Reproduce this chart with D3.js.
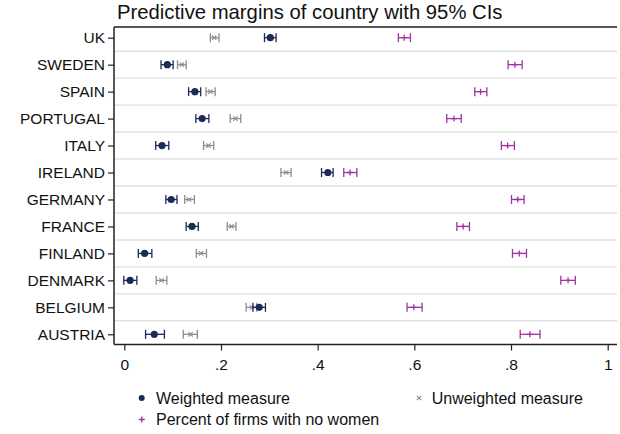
<!DOCTYPE html>
<html><head><meta charset="utf-8">
<script src="https://cdn.jsdelivr.net/npm/d3@7"></script>
<style>body{margin:0;background:#fff}svg{display:block;font-family:"Liberation Sans",Arial,sans-serif}</style>
</head><body>
<script>
const countries = ["UK","SWEDEN","SPAIN","PORTUGAL","ITALY","IRELAND","GERMANY","FRANCE","FINLAND","DENMARK","BELGIUM","AUSTRIA"];
const weighted   = [0.302,0.089,0.146,0.161,0.078,0.421,0.097,0.140,0.042,0.012,0.279,0.062];
const weightedLo = [0.290,0.076,0.133,0.148,0.065,0.408,0.086,0.128,0.029,-0.001,0.266,0.044];
const weightedHi = [0.314,0.101,0.158,0.175,0.092,0.432,0.109,0.153,0.057,0.026,0.292,0.083];
const unweighted   = [0.186,0.119,0.178,0.230,0.174,0.335,0.134,0.222,0.159,0.077,0.264,0.137];
const unweightedLo = [0.178,0.110,0.169,0.219,0.164,0.324,0.125,0.213,0.149,0.066,0.252,0.122];
const unweightedHi = [0.196,0.128,0.188,0.241,0.185,0.345,0.145,0.231,0.170,0.088,0.274,0.151];
const noWomen   = [0.579,0.808,0.737,0.682,0.793,0.467,0.814,0.701,0.817,0.918,0.599,0.839];
const noWomenLo = [0.567,0.794,0.725,0.667,0.780,0.454,0.801,0.688,0.803,0.903,0.585,0.819];
const noWomenHi = [0.592,0.823,0.750,0.697,0.807,0.481,0.827,0.714,0.832,0.933,0.616,0.860];
const xTicks = [0,0.2,0.4,0.6,0.8,1];
const xTickLabels = ["0",".2",".4",".6",".8","1"];
const legendLabels = ["Weighted measure","Unweighted measure","Percent of firms with no women"];
const titleText = "Predictive margins of country with 95% CIs";

const W=620,H=434;
const NAVY="#1c2a58", GRAY="#8e8e8e", PURPLE="#a231a6";
const FS=15.5;
const svg=d3.select("body").append("svg").attr("width",W).attr("height",H);
const plotL=114, plotR=617, plotT=27, plotB=344.5;
const x=d3.scaleLinear().domain([0,1]).range([124.3,607.7]);
const y=d3.scalePoint().domain(countries).range([37.7,334.3]);
const step=y.step();

// gridlines between rows
const gl=svg.append("g");
countries.slice(1).forEach(c=>{
  gl.append("line").attr("x1",plotL).attr("x2",plotR).attr("y1",y(c)-step/2).attr("y2",y(c)-step/2)
    .attr("stroke","#e0e0e0").attr("stroke-width",1.4);
});
// top frame line
svg.append("line").attr("x1",plotL).attr("x2",plotR).attr("y1",plotT).attr("y2",plotT).attr("stroke","#555").attr("stroke-width",2);

// axes
const xAxis=d3.axisBottom(x).tickValues(xTicks).tickFormat((d,i)=>xTickLabels[i]).tickSize(6).tickSizeOuter(0);
const gx=svg.append("g").attr("transform",`translate(0,${plotB})`).call(xAxis);
gx.select(".domain").attr("d",`M${plotL},0H${plotR}`).attr("stroke","#222").attr("stroke-width",1.5);
gx.selectAll(".tick line").attr("stroke","#222").attr("stroke-width",1.2);
gx.selectAll(".tick text").attr("font-size",FS).attr("fill","#111").attr("dy","1.05em").attr("font-family","Liberation Sans, Arial, sans-serif");

const yAxis=d3.axisLeft(y).tickSize(6).tickPadding(3).tickSizeOuter(0);
const gy=svg.append("g").attr("transform",`translate(${plotL},0)`).call(yAxis);
gy.select(".domain").attr("d",`M0,${plotT}V${plotB}`).attr("stroke","#222").attr("stroke-width",1.5);
gy.selectAll(".tick line").attr("stroke","#222").attr("stroke-width",1.2);
gy.selectAll(".tick text").attr("font-size",FS).attr("fill","#111").attr("font-family","Liberation Sans, Arial, sans-serif");

const capH=4.5;
function drawCI(vals,lo,hi,color){
  const g=svg.append("g").attr("stroke",color).attr("stroke-width",1.3).attr("fill","none");
  countries.forEach((c,i)=>{
    const yy=y(c);
    g.append("line").attr("x1",x(lo[i])).attr("x2",x(hi[i])).attr("y1",yy).attr("y2",yy);
    g.append("line").attr("x1",x(lo[i])).attr("x2",x(lo[i])).attr("y1",yy-capH).attr("y2",yy+capH);
    g.append("line").attr("x1",x(hi[i])).attr("x2",x(hi[i])).attr("y1",yy-capH).attr("y2",yy+capH);
  });
  return g;
}
function xMark(g,cx,cy,s,color){
  g.append("path").attr("d",`M${cx-s},${cy-s}L${cx+s},${cy+s}M${cx-s},${cy+s}L${cx+s},${cy-s}`).attr("stroke",color).attr("stroke-width",1.1).attr("fill","none");
}
function plusMark(g,cx,cy,s,color){
  g.append("path").attr("d",`M${cx-s},${cy}L${cx+s},${cy}M${cx},${cy-s}L${cx},${cy+s}`).attr("stroke",color).attr("stroke-width",1.3).attr("fill","none");
}

const gU=drawCI(unweighted,unweightedLo,unweightedHi,GRAY);
countries.forEach((c,i)=>xMark(gU,x(unweighted[i]),y(c),2.2,GRAY));
const gW=drawCI(weighted,weightedLo,weightedHi,NAVY);
countries.forEach((c,i)=>gW.append("circle").attr("cx",x(weighted[i])).attr("cy",y(c)).attr("r",3.6).attr("fill",NAVY).attr("stroke","none"));
const gP=drawCI(noWomen,noWomenLo,noWomenHi,PURPLE);
countries.forEach((c,i)=>plusMark(gP,x(noWomen[i]),y(c),3,PURPLE));

// title
svg.append("text").attr("x",117).attr("y",19).attr("font-size",20.3).attr("fill","#111").text(titleText);

// legend
const lg=svg.append("g").attr("font-size",16).attr("fill","#111");
lg.append("circle").attr("cx",141.7).attr("cy",398).attr("r",3).attr("fill",NAVY);
lg.append("text").attr("x",156).attr("y",403.7).text(legendLabels[0]);
xMark(lg,419,398,2.2,GRAY);
lg.append("text").attr("x",431.7).attr("y",403.7).text(legendLabels[1]);
plusMark(lg,141.7,419.5,3,PURPLE);
lg.append("text").attr("x",156).attr("y",425).text(legendLabels[2]);
</script>
</body></html>
